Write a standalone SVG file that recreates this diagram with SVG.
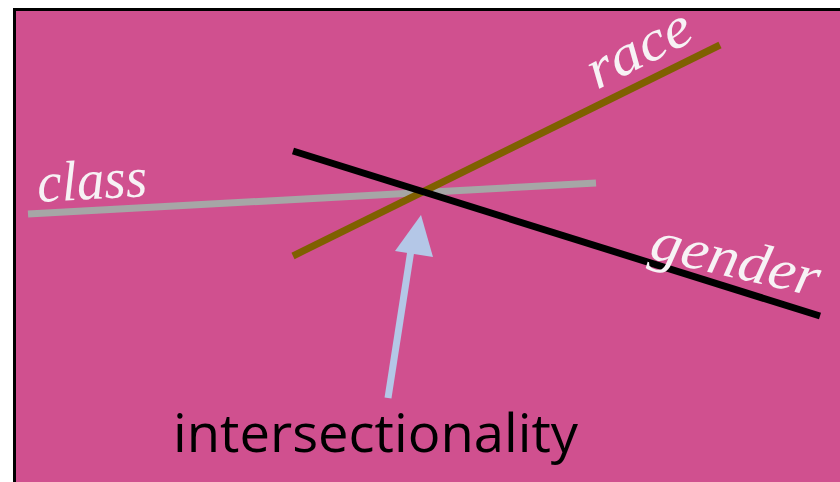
<svg xmlns="http://www.w3.org/2000/svg" width="840" height="482" viewBox="0 0 840 482">
<style>
.lbl{font-family:"Liberation Serif","DejaVu Serif",serif;font-style:italic;font-size:57px;fill:#F7F2F5}
.ln{stroke-width:7;fill:none;stroke-linecap:butt}
</style>
<rect x="0" y="0" width="840" height="482" fill="#FFFFFF"/>
<rect x="14.5" y="9.5" width="840" height="490" fill="#D0508F" stroke="#000" stroke-width="3"/>
<g id="connectors">
<line class="ln" x1="28" y1="214" x2="596" y2="183" stroke="#A6A6A6"/>
<line class="ln" x1="293" y1="256" x2="720" y2="45" stroke="#7F6000"/>
<line class="ln" x1="293" y1="151" x2="820" y2="316" stroke="#000000"/>
<g id="arrow">
<line x1="388" y1="398" x2="411" y2="250" stroke="#B4C7E7" stroke-width="7"/>
<polygon points="421,215 395,251 433,257" fill="#B4C7E7"/>
</g>
</g>
<g id="class"><text class="lbl" transform="translate(38,202) rotate(-3.1)" textLength="110" lengthAdjust="spacingAndGlyphs">class</text></g>
<g id="race"><text class="lbl" transform="translate(597,90) rotate(-27)" textLength="112" lengthAdjust="spacingAndGlyphs">race</text></g>
<g id="gender"><text class="lbl" transform="translate(648,258) rotate(13)" textLength="172" lengthAdjust="spacingAndGlyphs">gender</text></g>
<g id="intersectionality"><text x="173" y="452" font-family="'Open Sans','Noto Sans',sans-serif" font-size="53" fill="#000" textLength="405" lengthAdjust="spacingAndGlyphs">intersectionality</text></g>
</svg>
